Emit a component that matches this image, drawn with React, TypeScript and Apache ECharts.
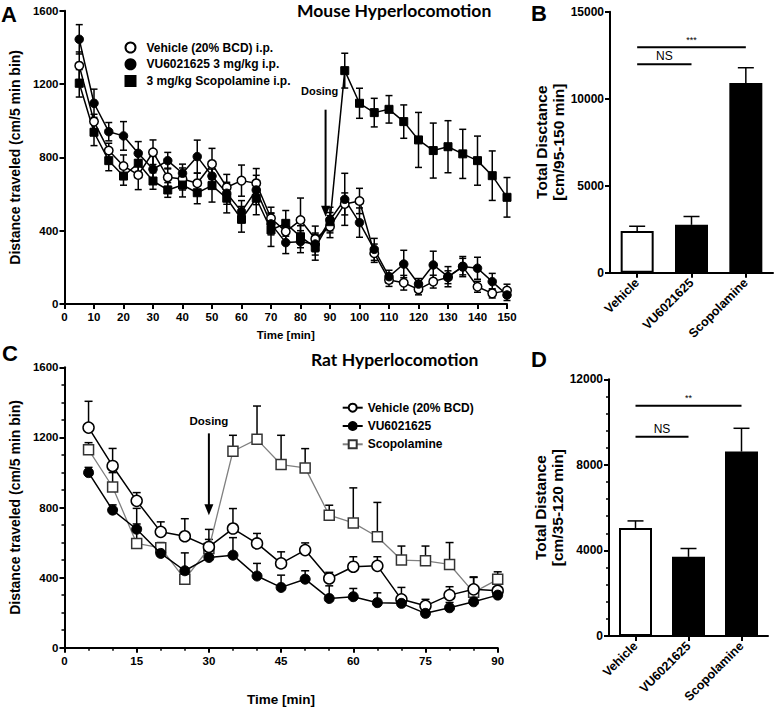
import React, { useEffect, useRef } from "react";
import * as echarts from "echarts";

const FONT = "Liberation Sans, Arial, sans-serif";
const TITLE_FONT = "Lato, Open Sans, sans-serif";

// ---------- Panel A: Mouse hyperlocomotion ----------
const timeA = [5, 10, 15, 20, 25, 30, 35, 40, 45, 50, 55, 60, 65, 70, 75, 80, 85, 90, 95, 100, 105, 110, 115, 120, 125, 130, 135, 140, 145, 150];
const vehA = [1300, 995, 837, 753, 704, 828, 691, 682, 659, 764, 637, 673, 659, 468, 395, 458, 355, 422, 546, 562, 277, 131, 116, 80, 122, 146, 204, 94, 58, 73];
const vehAErr = [75, 40, 40, 60, 80, 67, 50, 60, 55, 85, 70, 85, 80, 60, 60, 120, 70, 60, 60, 69, 50, 35, 40, 30, 35, 35, 45, 30, 25, 35];
const vuA = [1444, 1095, 940, 917, 822, 735, 782, 713, 804, 698, 604, 504, 622, 437, 335, 340, 327, 458, 571, 444, 298, 149, 218, 109, 213, 149, 204, 195, 122, 49];
const vuAErr = [80, 77, 50, 78, 64, 70, 45, 50, 90, 60, 60, 60, 80, 60, 60, 60, 60, 70, 142, 80, 60, 35, 75, 30, 75, 55, 55, 60, 45, 30];
const scopA = [1204, 937, 782, 698, 768, 671, 622, 649, 607, 646, 577, 462, 577, 404, 440, 367, 309, 449, 1273, 1095, 1044, 1062, 995, 895, 837, 858, 819, 782, 700, 582];
const scopAErr = [75, 73, 55, 50, 60, 45, 40, 65, 60, 90, 80, 70, 90, 90, 70, 60, 70, 50, 95, 82, 78, 75, 91, 150, 150, 142, 134, 134, 135, 108];
const namesA = ["Vehicle (20% BCD) i.p.", "VU6021625 3 mg/kg i.p.", "3 mg/kg Scopolamine i.p."];
// dosing annotation: [time, arrowFrom, arrowTo, textTime, textValue]
const dosingA = [88.5, 1060, 476, 86.5, 1160];

// ---------- Panel B ----------
const catsB = ["Vehicle", "VU6021625", "Scopolamine"];
const totalB = [2400, 2750, 10900];
const totalBErr = [270, 480, 880];
// significance: [fromIndex, toIndex, value]
const sigB = [[0, 2, 12950], [0, 1, 11980]];
const sigBLabels = ["***", "NS"];

// ---------- Panel C: Rat hyperlocomotion ----------
const timeC = [5, 10, 15, 20, 25, 30, 35, 40, 45, 50, 55, 60, 65, 70, 75, 80, 85, 90];
const vehC = [1256, 1037, 838, 661, 636, 575, 680, 595, 481, 557, 395, 462, 467, 276, 239, 300, 333, 325];
const vehCErr = [150, 100, 47, 57, 100, 100, 114, 57, 66, 41, 35, 57, 52, 68, 37, 48, 68, 57];
const vuC = [999, 785, 676, 538, 439, 515, 528, 409, 344, 391, 281, 291, 257, 253, 196, 228, 262, 300];
const vuCErr = [30, 30, 30, 20, 102, 30, 100, 72, 70, 48, 72, 47, 56, 40, 30, 30, 40, 30];
const scopC = [1130, 917, 595, 570, 391, 566, 1121, 1189, 1045, 1026, 756, 712, 633, 500, 496, 475, 316, 390];
const scopCErr = [40, 82, 200, 30, 30, 52, 91, 190, 167, 110, 57, 200, 196, 80, 84, 125, 88, 43];
const namesC = ["Vehicle (20% BCD)", "VU6021625", "Scopolamine"];
const dosingC = [30, 1223, 756, 30, 1292];

// ---------- Panel D ----------
const catsD = ["Vehicle", "VU6021625", "Scopolamine"];
const totalD = [5050, 3700, 8620];
const totalDErr = [330, 390, 1090];
const sigD = [[0, 2, 10760], [0, 1, 9310]];
const sigDLabels = ["**", "NS"];

const BLACK = "#000";

function errRender(capW: number, both: boolean) {
  return (params: any, api: any) => {
    const x = api.value(0);
    const y = api.value(1);
    const e = api.value(2);
    const top = api.coord([x, y + e]);
    const bot = api.coord([x, both ? y - e : y]);
    const style = { stroke: BLACK, lineWidth: 1.5, fill: "none" };
    const children: any[] = [
      { type: "line", shape: { x1: top[0], y1: top[1], x2: bot[0], y2: bot[1] }, style },
      { type: "line", shape: { x1: top[0] - capW / 2, y1: top[1], x2: top[0] + capW / 2, y2: top[1] }, style },
    ];
    if (both) {
      children.push({ type: "line", shape: { x1: bot[0] - capW / 2, y1: bot[1], x2: bot[0] + capW / 2, y2: bot[1] }, style });
    }
    return { type: "group", children };
  };
}

function dosingRender(fontSize: number) {
  return (params: any, api: any) => {
    const t = api.value(0);
    const p1 = api.coord([t, api.value(1)]);
    const p2 = api.coord([t, api.value(2)]);
    const pt = api.coord([api.value(3), api.value(4)]);
    return {
      type: "group",
      children: [
        { type: "line", shape: { x1: p1[0], y1: p1[1], x2: p2[0], y2: p2[1] - 8 }, style: { stroke: BLACK, lineWidth: 2 } },
        { type: "polygon", shape: { points: [[p2[0] - 4.5, p2[1] - 11], [p2[0] + 4.5, p2[1] - 11], [p2[0], p2[1]]] }, style: { fill: BLACK } },
        {
          type: "text",
          x: pt[0],
          y: pt[1],
          style: { text: "Dosing", font: `bold ${fontSize}px ${FONT}`, fill: BLACK, align: "center", verticalAlign: "middle" },
        },
      ],
    };
  };
}

function sigRender(labels: string[]) {
  return (params: any, api: any) => {
    const a = api.coord([api.value(0), api.value(2)]);
    const b = api.coord([api.value(1), api.value(2)]);
    const lab = labels[params.dataIndex];
    const stars = lab.indexOf("*") >= 0;
    return {
      type: "group",
      children: [
        { type: "line", shape: { x1: a[0], y1: a[1], x2: b[0], y2: b[1] }, style: { stroke: BLACK, lineWidth: 2 } },
        {
          type: "text",
          x: (a[0] + b[0]) / 2,
          y: a[1] - (stars ? 3 : 2),
          style: {
            text: lab,
            font: stars ? `9px ${FONT}` : `12px ${FONT}`,
            fill: BLACK,
            align: "center",
            verticalAlign: "bottom",
          },
        },
      ],
    };
  };
}

const plain = (v: number) => String(v);
const axisLineStyle = { show: true, lineStyle: { color: BLACK, width: 2 } };
const tickStyle = { show: true, length: 5, lineStyle: { color: BLACK, width: 2 } };
const labelStyle = { color: BLACK, fontFamily: FONT, fontWeight: "bold" as const, fontSize: 11.5 };

function valueXAxis(gridIndex: number, max: number, interval: number, extra: any = {}) {
  return {
    type: "value",
    gridIndex,
    min: 0,
    max,
    interval,
    axisLine: { ...axisLineStyle, onZero: false },
    axisTick: tickStyle,
    axisLabel: { ...labelStyle, margin: 7, formatter: plain },
    splitLine: { show: false },
    ...extra,
  };
}

function valueYAxis(gridIndex: number, max: number, interval: number, fontSize: number, extra: any = {}) {
  return {
    type: "value",
    gridIndex,
    min: 0,
    max,
    interval,
    axisLine: { ...axisLineStyle, onZero: false },
    axisTick: tickStyle,
    axisLabel: { ...labelStyle, fontSize, margin: 6, formatter: plain },
    splitLine: { show: false },
    ...extra,
  };
}

function catXAxis(gridIndex: number, cats: string[]) {
  return {
    type: "category",
    gridIndex,
    data: cats,
    axisLine: { ...axisLineStyle, onZero: false },
    axisTick: { ...tickStyle, alignWithLabel: true },
    axisLabel: { ...labelStyle, fontSize: 12.5, rotate: 45, interval: 0, margin: 8 },
    splitLine: { show: false },
  };
}

export default function App() {
  const ref = useRef<HTMLDivElement>(null);

  useEffect(() => {
    if (!ref.current) return;
    const chart = echarts.init(ref.current, null, { renderer: "svg" });

    const letter = (text: string, left: number, top: number) => ({
      text,
      left,
      top,
      padding: 0,
      textStyle: { fontFamily: FONT, fontWeight: "bold", fontSize: 22, color: BLACK },
    });
    const heading = (text: string, left: number, top: number) => ({
      text,
      left,
      top,
      padding: 0,
      textStyle: { fontFamily: TITLE_FONT, fontWeight: "bold", fontSize: 17.5, color: BLACK },
    });

    const openCircle = { color: "#fff", borderColor: BLACK, borderWidth: 1.5 };
    const filled = { color: BLACK, borderColor: BLACK, borderWidth: 1 };

    const option: any = {
      animation: false,
      backgroundColor: "#fff",
      title: [
        letter("A", 1, 3),
        letter("B", 531, 2),
        letter("C", 2, 342),
        letter("D", 531, 348),
        heading("Mouse Hyperlocomotion", 297, 1),
        heading("Rat Hyperlocomotion", 311, 350),
      ],
      legend: [
        {
          orient: "vertical",
          left: 124.5,
          top: 41.5,
          itemWidth: 10,
          itemHeight: 10,
          itemGap: 4.7,
          padding: 0,
          textStyle: { ...labelStyle, fontSize: 12, padding: [0, 0, 0, 6] },
          data: [
            { name: namesA[0], icon: "circle" },
            { name: namesA[1], icon: "circle" },
            { name: namesA[2], icon: "rect" },
          ],
        },
        {
          orient: "vertical",
          left: 341.7,
          top: 401.7,
          itemWidth: 20,
          itemHeight: 10,
          itemGap: 6.3,
          padding: 0,
          textStyle: { ...labelStyle, fontSize: 12 },
          data: namesC,
        },
      ],
      grid: [
        { left: 64.5, top: 10.7, width: 442.5, height: 293.3 },
        { left: 610, top: 11.7, width: 163, height: 261 },
        { left: 62.3, top: 367.3, width: 435.4, height: 280.4 },
        { left: 609, top: 379.3, width: 159, height: 256.7 },
      ],
      xAxis: [
        valueXAxis(0, 150, 10, {
          name: "Time [min]",
          nameLocation: "middle",
          nameGap: 25,
          nameTextStyle: { ...labelStyle, fontSize: 11.5 },
        }),
        catXAxis(1, catsB),
        valueXAxis(2, 90, 15, {
          minorTick: { show: true, splitNumber: 3, length: 3, lineStyle: { color: BLACK, width: 1.5 } },
          name: "Time [min]",
          nameLocation: "middle",
          nameGap: 45,
          nameTextStyle: { ...labelStyle, fontSize: 13.5 },
        }),
        catXAxis(3, catsD),
      ],
      yAxis: [
        valueYAxis(0, 1600, 400, 11.5, {
          name: "Distance traveled (cm/5 min bin)",
          nameLocation: "middle",
          nameGap: 38,
          nameTextStyle: { ...labelStyle, fontSize: 14 },
        }),
        valueYAxis(1, 15000, 5000, 12, {
          name: "Total Disctance\n[cm/95-150 min]",
          nameLocation: "middle",
          nameGap: 42,
          nameTextStyle: { ...labelStyle, fontSize: 15.5, lineHeight: 17 },
        }),
        valueYAxis(2, 1600, 400, 11.5, {
          minorTick: { show: true, splitNumber: 4, length: 3, lineStyle: { color: BLACK, width: 1.5 } },
          name: "Distance traveled (cm/5 min bin)",
          nameLocation: "middle",
          nameGap: 37,
          nameTextStyle: { ...labelStyle, fontSize: 14 },
        }),
        valueYAxis(3, 12000, 4000, 12, {
          minorTick: { show: true, splitNumber: 5, length: 3, lineStyle: { color: BLACK, width: 1.5 } },
          name: "Total Distance\n[cm/35-120 min]",
          nameLocation: "middle",
          nameGap: 41,
          nameTextStyle: { ...labelStyle, fontSize: 15.5, lineHeight: 17 },
        }),
      ],
      series: [
        // ----- Panel A error bars -----
        ...[
          [vehA, vehAErr],
          [vuA, vuAErr],
          [scopA, scopAErr],
        ].map(([vals, errs]) => ({
          type: "custom",
          xAxisIndex: 0,
          yAxisIndex: 0,
          z: 1,
          silent: true,
          renderItem: errRender(7, true),
          data: timeA.map((t, i) => [t, vals[i], errs[i]]),
        })),
        {
          name: namesA[0],
          type: "line",
          xAxisIndex: 0,
          yAxisIndex: 0,
          z: 3,
          symbol: "circle",
          symbolSize: 8.5,
          lineStyle: { color: BLACK, width: 1.5 },
          itemStyle: openCircle,
          data: timeA.map((t, i) => [t, vehA[i]]),
        },
        {
          name: namesA[1],
          type: "line",
          xAxisIndex: 0,
          yAxisIndex: 0,
          z: 3,
          symbol: "circle",
          symbolSize: 8.5,
          lineStyle: { color: BLACK, width: 1.5 },
          itemStyle: filled,
          data: timeA.map((t, i) => [t, vuA[i]]),
        },
        {
          name: namesA[2],
          type: "line",
          xAxisIndex: 0,
          yAxisIndex: 0,
          z: 3,
          symbol: "rect",
          symbolSize: 8,
          lineStyle: { color: BLACK, width: 1.5 },
          itemStyle: filled,
          data: timeA.map((t, i) => [t, scopA[i]]),
        },
        {
          type: "custom",
          xAxisIndex: 0,
          yAxisIndex: 0,
          z: 4,
          silent: true,
          renderItem: dosingRender(11),
          data: [dosingA],
        },
        // ----- Panel B -----
        {
          type: "bar",
          xAxisIndex: 1,
          yAxisIndex: 1,
          barWidth: 33,
          z: 2,
          data: totalB.map((v, i) => ({
            value: v,
            itemStyle: i === 0 ? { color: "#fff", borderColor: BLACK, borderWidth: 2 } : { color: BLACK },
          })),
        },
        {
          type: "custom",
          xAxisIndex: 1,
          yAxisIndex: 1,
          z: 1,
          silent: true,
          renderItem: errRender(16, false),
          data: totalB.map((v, i) => [i, v, totalBErr[i]]),
        },
        {
          type: "custom",
          xAxisIndex: 1,
          yAxisIndex: 1,
          z: 4,
          silent: true,
          renderItem: sigRender(sigBLabels),
          data: sigB,
        },
        // ----- Panel C -----
        ...[
          [vehC, vehCErr],
          [vuC, vuCErr],
          [scopC, scopCErr],
        ].map(([vals, errs]) => ({
          type: "custom",
          xAxisIndex: 2,
          yAxisIndex: 2,
          z: 1,
          silent: true,
          renderItem: errRender(8, false),
          data: timeC.map((t, i) => [t, vals[i], errs[i]]),
        })),
        {
          name: namesC[2],
          type: "line",
          xAxisIndex: 2,
          yAxisIndex: 2,
          z: 2,
          symbol: "rect",
          symbolSize: 10,
          lineStyle: { color: "#808080", width: 1.3 },
          itemStyle: { color: "#fff", borderColor: "#333", borderWidth: 1.5 },
          data: timeC.map((t, i) => [t, scopC[i]]),
        },
        {
          name: namesC[0],
          type: "line",
          xAxisIndex: 2,
          yAxisIndex: 2,
          z: 3,
          symbol: "circle",
          symbolSize: 11,
          lineStyle: { color: BLACK, width: 1.5 },
          itemStyle: openCircle,
          data: timeC.map((t, i) => [t, vehC[i]]),
        },
        {
          name: namesC[1],
          type: "line",
          xAxisIndex: 2,
          yAxisIndex: 2,
          z: 3,
          symbol: "circle",
          symbolSize: 10,
          lineStyle: { color: BLACK, width: 1.5 },
          itemStyle: filled,
          data: timeC.map((t, i) => [t, vuC[i]]),
        },
        {
          type: "custom",
          xAxisIndex: 2,
          yAxisIndex: 2,
          z: 4,
          silent: true,
          renderItem: dosingRender(11.5),
          data: [dosingC],
        },
        // ----- Panel D -----
        {
          type: "bar",
          xAxisIndex: 3,
          yAxisIndex: 3,
          barWidth: 33,
          z: 2,
          data: totalD.map((v, i) => ({
            value: v,
            itemStyle: i === 0 ? { color: "#fff", borderColor: BLACK, borderWidth: 2 } : { color: BLACK },
          })),
        },
        {
          type: "custom",
          xAxisIndex: 3,
          yAxisIndex: 3,
          z: 1,
          silent: true,
          renderItem: errRender(16, false),
          data: totalD.map((v, i) => [i, v, totalDErr[i]]),
        },
        {
          type: "custom",
          xAxisIndex: 3,
          yAxisIndex: 3,
          z: 4,
          silent: true,
          renderItem: sigRender(sigDLabels),
          data: sigD,
        },
      ],
    };

    chart.setOption(option);
    return () => chart.dispose();
  }, []);

  return <div ref={ref} style={{ position: "absolute", left: 0, top: 0, width: 775, height: 709 }} />;
}
